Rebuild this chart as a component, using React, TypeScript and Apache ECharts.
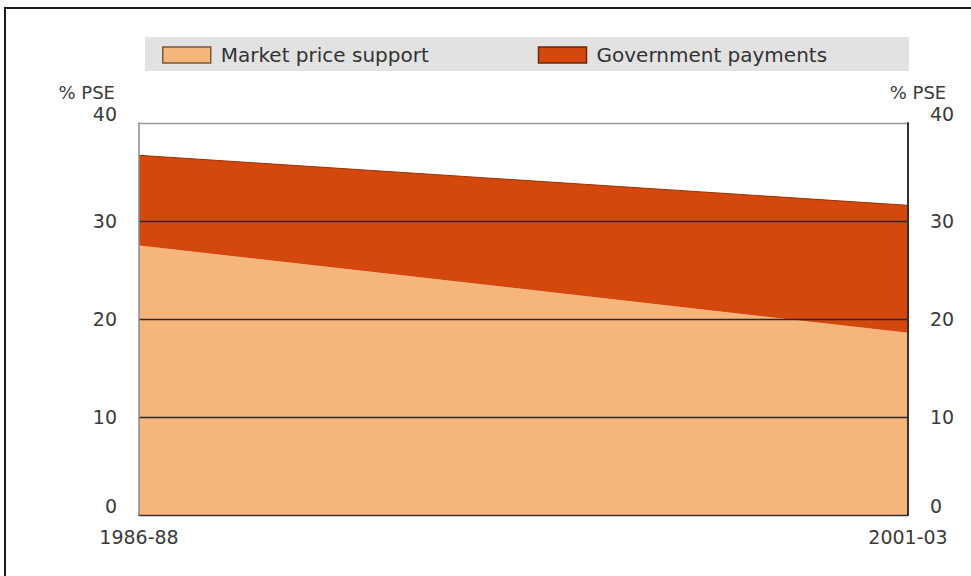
import React, { useEffect, useRef } from "react";
import * as echarts from "echarts";

const categories = ["1986-88", "2001-03"];
const marketPriceSupport = [27.5, 18.6];
const governmentPayments = [9.2, 13.0];
const seriesNames = ["Market price support", "Government payments"];
const yTicks = { min: 0, max: 40, interval: 10 };
const axisName = "% PSE";

const LIGHT = "#F6B67B";
const DARK = "#D4470D";
const FONT = "DejaVu Sans";

export default function App() {
  const ref = useRef<HTMLDivElement>(null);
  useEffect(() => {
    if (!ref.current) return;
    const chart = echarts.init(ref.current, undefined, { renderer: "svg" });
    chart.setOption({
      animation: false,
      backgroundColor: "#ffffff",
      textStyle: { fontFamily: FONT },
      graphic: [
        {
          type: "rect",
          z: 0,
          shape: { x: 145, y: 37, width: 764, height: 34 },
          style: { fill: "#e2e2e2" },
        },
        {
          type: "rect",
          z: 0,
          shape: { x: 5, y: 8, width: 1200, height: 800 },
          style: { fill: "none", stroke: "#1a1a1a", lineWidth: 2 },
        },
      ],
      legend: {
        left: 162,
        top: 45,
        padding: 0,
        itemWidth: 48,
        itemHeight: 16,
        itemGap: 57,
        icon: "rect",
        data: [
          { name: seriesNames[0], itemStyle: { color: LIGHT, borderColor: "#7a5a3a", borderWidth: 1.5 } },
          { name: seriesNames[1], itemStyle: { color: DARK, borderColor: "#6a2a0a", borderWidth: 1.5 } },
        ],
        textStyle: {
          fontFamily: FONT,
          fontSize: 20,
          color: "#333",
          width: 260,
          lineHeight: 20,
          padding: [0, 0, 0, 5],
        },
      },
      grid: { left: 139, right: 63, top: 123, bottom: 61, containLabel: false },
      xAxis: {
        type: "category",
        data: categories,
        boundaryGap: false,
        axisLine: { show: true, lineStyle: { color: "#333", width: 2 } },
        axisTick: { show: false },
        splitLine: { show: false },
        axisLabel: { margin: 12, fontSize: 19, color: "#3a3a3a", fontFamily: FONT },
      },
      yAxis: [
        {
          type: "value",
          position: "left",
          min: yTicks.min,
          max: yTicks.max,
          interval: yTicks.interval,
          z: 5,
          name: axisName,
          nameLocation: "end",
          nameGap: 22,
          nameTextStyle: { align: "right", padding: [0, 24, 0, 0], fontSize: 18, lineHeight: 18, color: "#3a3a3a", fontFamily: FONT },
          axisLine: { show: true, lineStyle: { color: "#8a8a8a", width: 1.5 } },
          axisTick: { show: false },
          axisLabel: {
            margin: 22,
            fontSize: 19,
            lineHeight: 18,
            color: "#3a3a3a",
            fontFamily: FONT,
            verticalAlignMinLabel: "bottom",
            verticalAlignMaxLabel: "bottom",
          },
          splitLine: {
            show: true,
            lineStyle: { color: ["#333", "#2a2a2a", "#2a2a2a", "#2a2a2a", "#9a9a9a"], width: 1.3 },
          },
        },
        {
          type: "value",
          position: "right",
          min: yTicks.min,
          max: yTicks.max,
          interval: yTicks.interval,
          z: 5,
          name: axisName,
          nameLocation: "end",
          nameGap: 22,
          nameTextStyle: { align: "center", padding: [0, 0, 0, 20], fontSize: 18, lineHeight: 18, color: "#3a3a3a", fontFamily: FONT },
          axisLine: { show: true, lineStyle: { color: "#333", width: 2 } },
          axisTick: { show: false },
          axisLabel: {
            margin: 22,
            fontSize: 19,
            lineHeight: 18,
            color: "#3a3a3a",
            fontFamily: FONT,
            verticalAlignMinLabel: "bottom",
            verticalAlignMaxLabel: "bottom",
          },
          splitLine: { show: false },
        },
      ],
      series: [
        {
          name: seriesNames[0],
          type: "line",
          stack: "pse",
          data: marketPriceSupport,
          symbol: "none",
          lineStyle: { width: 0 },
          itemStyle: { color: LIGHT },
          areaStyle: { color: LIGHT, opacity: 1 },
        },
        {
          name: seriesNames[1],
          type: "line",
          stack: "pse",
          data: governmentPayments,
          symbol: "none",
          lineStyle: { width: 1, color: "#9a3206" },
          itemStyle: { color: DARK },
          areaStyle: { color: DARK, opacity: 1 },
        },
      ],
    });
    return () => chart.dispose();
  }, []);
  return (
    <div
      ref={ref}
      style={{ position: "fixed", left: 0, top: 0, width: 971, height: 576 }}
    />
  );
}
